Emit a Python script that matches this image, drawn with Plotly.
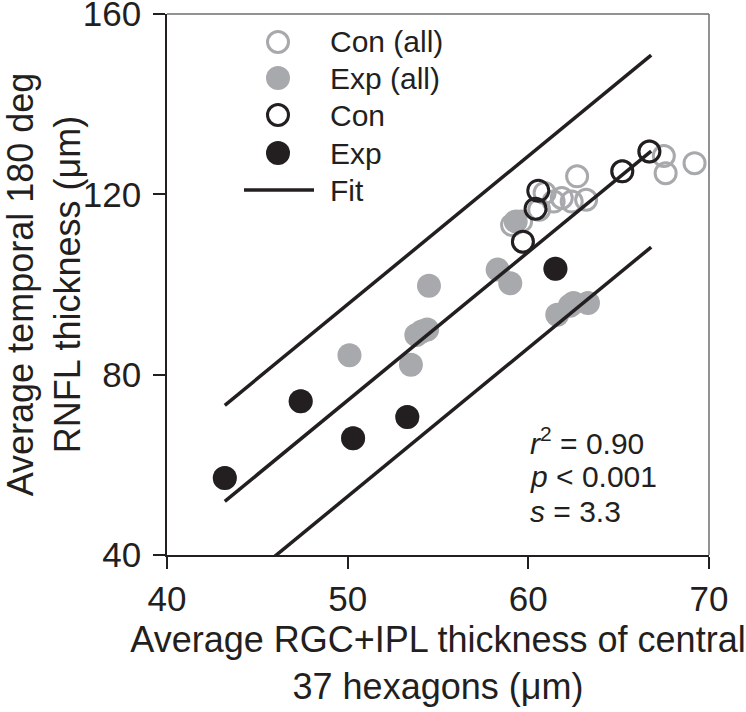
import plotly.graph_objects as go

# ---- data ----
con_all_x = [59.1, 59.6, 60.6, 60.9, 61.4, 61.85, 62.4, 62.7, 63.2, 59.7, 65.2, 66.7, 67.5, 67.6, 69.2]
con_all_y = [113.2, 114.0, 116.6, 120.3, 118.4, 119.2, 118.4, 124.0, 118.8, 109.5, 125.1, 129.5, 128.5, 124.7, 126.9]

exp_all_x = [43.2, 47.4, 50.3, 53.3, 61.5, 50.1, 53.5, 53.8, 54.1, 54.4, 54.5, 58.3, 59.0, 59.3, 61.6, 62.3, 62.5, 63.3]
exp_all_y = [57.1, 74.1, 65.9, 70.6, 103.5, 84.3, 82.2, 88.8, 89.6, 90.0, 99.7, 103.3, 100.3, 114.0, 93.3, 95.3, 95.9, 95.9]

con_x = [59.7, 60.4, 60.55, 65.2, 66.7]
con_y = [109.5, 116.8, 120.8, 125.1, 129.5]

exp_x = [43.2, 47.4, 50.3, 53.3, 61.5]
exp_y = [57.1, 74.1, 65.9, 70.6, 103.5]

fit_x = [43.2, 66.8]
fit_y = [51.9, 129.6]
upper_y = [73.2, 150.9]
lower_y = [30.6, 108.3]

x_ticks = [40, 50, 60, 70]
y_ticks = [40, 80, 120, 160]

legend_names = ["Con (all)", "Exp (all)", "Con", "Exp", "Fit"]

stats_lines = ["<i>r</i><sup>2</sup> = 0.90", "<i>p</i> &lt; 0.001", "<i>s</i> = 3.3"]
stats_y = [65.2, 57.4, 49.7]

GRAY = "#a7a9ac"
BLACK = "#231f20"
FONT = "Liberation Sans, Arial, sans-serif"

W, H = 746, 712
# plot area in pixels: x 167..709, y 14..555
SX0, SX1, SY0, SY1 = 167, 709, 14, 555
ML, MR, MT, MB = SX0, W - SX1, SY0, H - SY1
PW, PH = SX1 - SX0, SY1 - SY0


def px(xs):
    return (xs - SX0) / PW


def py(ys):
    return (SY1 - ys) / PH


fig = go.Figure()
fig.add_trace(go.Scatter(x=con_all_x, y=con_all_y, mode="markers", name=legend_names[0],
                         marker=dict(symbol="circle-open", size=21, color=GRAY,
                                     line=dict(color=GRAY, width=3))))
fig.add_trace(go.Scatter(x=exp_all_x, y=exp_all_y, mode="markers", name=legend_names[1],
                         marker=dict(symbol="circle", size=24, color=GRAY, line=dict(width=0))))
fig.add_trace(go.Scatter(x=con_x, y=con_y, mode="markers", name=legend_names[2],
                         marker=dict(symbol="circle-open", size=21, color=BLACK,
                                     line=dict(color=BLACK, width=3))))
fig.add_trace(go.Scatter(x=exp_x, y=exp_y, mode="markers", name=legend_names[3],
                         marker=dict(symbol="circle", size=24, color=BLACK, line=dict(width=0))))
fig.add_trace(go.Scatter(x=fit_x, y=fit_y, mode="lines", name=legend_names[4],
                         line=dict(color=BLACK, width=3.5)))
fig.add_trace(go.Scatter(x=fit_x, y=upper_y, mode="lines", name="upper",
                         line=dict(color=BLACK, width=3.5)))
fig.add_trace(go.Scatter(x=fit_x, y=lower_y, mode="lines", name="lower",
                         line=dict(color=BLACK, width=3.5)))

for txt, yy in zip(stats_lines, stats_y):
    fig.add_annotation(x=60.0, y=yy, xref="x", yref="y", text=txt, showarrow=False,
                       xanchor="left", yanchor="middle",
                       font=dict(family=FONT, size=30, color=BLACK))

# ---- legend drawn by hand (symbols + labels) ----
row_y = [42, 78, 115, 153, 190]
sym_x = 278
text_x = 328
styles = [("open", GRAY), ("fill", GRAY), ("open", BLACK), ("fill", BLACK), ("line", BLACK)]
for name, ry, (kind, col) in zip(legend_names, row_y, styles):
    if kind == "open":
        fig.add_shape(type="circle", xref="paper", yref="paper", xsizemode="pixel", ysizemode="pixel",
                      xanchor=px(sym_x), yanchor=py(ry), x0=-10.5, x1=10.5, y0=-10.5, y1=10.5,
                      line=dict(color=col, width=3), fillcolor="rgba(0,0,0,0)")
    elif kind == "fill":
        fig.add_shape(type="circle", xref="paper", yref="paper", xsizemode="pixel", ysizemode="pixel",
                      xanchor=px(sym_x), yanchor=py(ry), x0=-12, x1=12, y0=-12, y1=12,
                      line=dict(width=0), fillcolor=col)
    else:
        fig.add_shape(type="line", xref="paper", yref="paper",
                      x0=px(244), x1=px(314), y0=py(ry), y1=py(ry),
                      line=dict(color=col, width=3.5))
    fig.add_annotation(x=px(text_x), y=py(ry), xref="paper", yref="paper", text=name,
                       showarrow=False, xanchor="left", yanchor="middle",
                       font=dict(family=FONT, size=30, color=BLACK))

# gray top/right frame
fig.add_shape(type="line", xref="paper", yref="paper", x0=0, x1=1, y0=1, y1=1,
              line=dict(color="#6d6e71", width=1.5))
fig.add_shape(type="line", xref="paper", yref="paper", x0=1, x1=1, y0=0, y1=1,
              line=dict(color="#6d6e71", width=1.5))

fig.update_layout(
    width=W, height=H,
    margin=dict(l=ML, r=MR, t=MT, b=MB, autoexpand=False),
    paper_bgcolor="white", plot_bgcolor="white",
    font=dict(family=FONT, size=35, color=BLACK),
    showlegend=False,
    xaxis=dict(range=[40, 70], tickvals=x_ticks, ticks="outside", ticklen=12, tickwidth=1.5,
               tickcolor=BLACK, showline=True, linecolor=BLACK, linewidth=1.5,
               showgrid=False, zeroline=False, tickfont=dict(size=35), automargin=False,
               ticklabeloverflow="allow",
               title=dict(text="Average RGC+IPL thickness of central<br>37 hexagons (μm)",
                          font=dict(size=36), standoff=10)),
    yaxis=dict(range=[40, 160], tickvals=y_ticks, ticks="outside", ticklen=12, tickwidth=1.5,
               tickcolor=BLACK, showline=True, linecolor=BLACK, linewidth=1.5,
               showgrid=False, zeroline=False, tickfont=dict(size=35), automargin=False,
               ticklabeloverflow="allow", ticklabelstandoff=5,
               title=dict(text="Average temporal 180 deg<br>RNFL thickness (μm)",
                          font=dict(size=36), standoff=8)),
)

fig.write_html("out.html",
               config={"displayModeBar": False},
               post_script="document.body.style.margin='0';document.body.style.overflow='hidden';")
